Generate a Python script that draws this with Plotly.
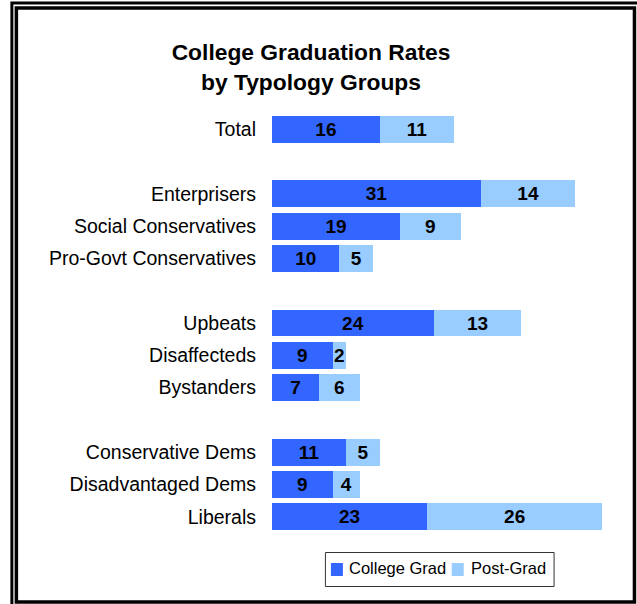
import plotly.graph_objects as go

# data
groups = ["Total", " ", "Enterprisers", "Social Conservatives", "Pro-Govt Conservatives", "  ",
          "Upbeats", "Disaffecteds", "Bystanders", "   ",
          "Conservative Dems", "Disadvantaged Dems", "Liberals"]
college_grad = [16, None, 31, 19, 10, None, 24, 9, 7, None, 11, 9, 23]
post_grad = [11, None, 14, 9, 5, None, 13, 2, 6, None, 5, 4, 26]
series_names = ["College Grad", "Post-Grad"]
series_colors = ["#3366FF", "#99CCFF"]

W, H = 637, 604
L, R, T, B = 272, 27.5, 113, 71
FONT = "Arial, Liberation Sans, sans-serif"


def px(x, y):
    # pixel position -> paper coordinates
    return (x - L) / (W - L - R), (H - B - y) / (H - T - B)


fig = go.Figure()
for name, vals, col in zip(series_names, [college_grad, post_grad], series_colors):
    fig.add_trace(go.Bar(
        y=groups, x=vals, name=name, orientation="h",
        marker=dict(color=col, line=dict(width=0)),
        width=0.835,
        text=vals, textposition="inside", insidetextanchor="middle",
        textangle=0, constraintext="none",
        textfont=dict(family=FONT, size=19, color="black", weight="bold"),
        hoverinfo="skip",
    ))

shapes = []
annotations = []


def rect(x0, y0, x1, y1, **kw):
    a0, b0 = px(x0, y0)
    a1, b1 = px(x1, y1)
    shapes.append(dict(type="rect", xref="paper", yref="paper",
                       x0=a0, y0=b0, x1=a1, y1=b1, layer="above", **kw))


# double frame round the chart
rect(11.5, 3, 660, 660, line=dict(color="black", width=3))
rect(16, 8, 635, 602, line=dict(color="black", width=3.5))

# legend box, drawn by hand to match the tight spacing
rect(325.5, 552.5, 554.5, 586.5, line=dict(color="#333333", width=1), fillcolor="white")
for (sx, tx), name, col in zip([(331, 347), (452, 469)], series_names, series_colors):
    rect(sx, 563, sx + 12, 576, line=dict(width=0), fillcolor=col)
    ax, ay = px(tx, 568)
    annotations.append(dict(text=name, xref="paper", yref="paper", x=ax, y=ay,
                            xanchor="left", yanchor="middle", showarrow=False,
                            font=dict(family=FONT, size=16.5, color="black")))

fig.update_layout(
    width=W, height=H,
    margin=dict(l=L, r=R, t=T, b=B),
    barmode="stack",
    paper_bgcolor="white", plot_bgcolor="white",
    font=dict(family=FONT, color="black"),
    title=dict(text="<b>College Graduation Rates<br>by Typology Groups</b>",
               x=311 / W, xanchor="center", y=1 - 60 / H, yanchor="top",
               font=dict(family=FONT, size=22.8, color="black")),
    xaxis=dict(range=[0, 50], visible=False, showgrid=False, zeroline=False),
    yaxis=dict(categoryorder="array", categoryarray=groups, autorange="reversed",
               showgrid=False, zeroline=False, showline=False, ticks="",
               ticklabelstandoff=15,
               tickfont=dict(family=FONT, size=19.5, color="black")),
    shapes=shapes,
    annotations=annotations,
    showlegend=False,
)

# the page body has a default 8px margin; drop it so the figure sits at 0,0
fig.write_html("out.html", config={"displayModeBar": False},
               post_script="document.body.style.margin='0px';")
